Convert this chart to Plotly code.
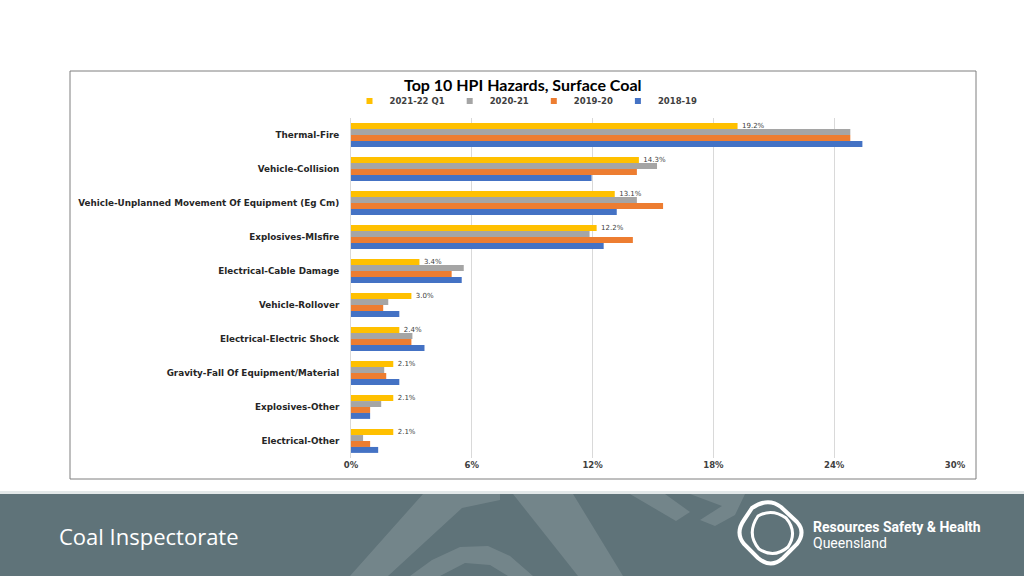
import plotly.graph_objects as go

W, H = 1024, 576

categories = [
    "Thermal-Fire",
    "Vehicle-Collision",
    "Vehicle-Unplanned Movement Of Equipment (Eg Cm)",
    "Explosives-MIsfire",
    "Electrical-Cable Damage",
    "Vehicle-Rollover",
    "Electrical-Electric Shock",
    "Gravity-Fall Of Equipment/Material",
    "Explosives-Other",
    "Electrical-Other",
]
series_names = ["2021-22 Q1", "2020-21", "2019-20", "2018-19"]
v_2021_22_q1 = [19.2, 14.3, 13.1, 12.2, 3.4, 3.0, 2.4, 2.1, 2.1, 2.1]
v_2020_21 = [24.8, 15.2, 14.2, 11.85, 5.6, 1.85, 3.05, 1.65, 1.5, 0.6]
v_2019_20 = [24.8, 14.2, 15.5, 14.0, 5.0, 1.6, 3.0, 1.75, 0.95, 0.95]
v_2018_19 = [25.4, 11.95, 13.2, 12.55, 5.5, 2.4, 3.65, 2.4, 0.95, 1.35]
series_values = [v_2021_22_q1, v_2020_21, v_2019_20, v_2018_19]
colors = ["#FFC000", "#A5A5A5", "#ED7D31", "#4472C4"]
x_ticks = [0, 6, 12, 18, 24, 30]
x_ticklabels = ["0%", "6%", "12%", "18%", "24%", "30%"]


def px(x):
    return x / W


def py(y):
    return 1 - y / H


fig = go.Figure()
for i, (name, vals, col) in enumerate(zip(series_names, series_values, colors)):
    kw = {}
    if i == 0:
        kw = dict(
            text=[f"  {v:.1f}%" for v in vals],
            textposition="outside",
            textfont=dict(family="DejaVu Sans", size=7, color="#404040"),
            constraintext="none",
            cliponaxis=False,
        )
    fig.add_trace(
        go.Bar(
            y=categories,
            x=vals,
            name=name,
            orientation="h",
            marker=dict(color=col, line=dict(width=0)),
            showlegend=False,
            legendgroup=name,
            hoverinfo="x+y",
            **kw,
        )
    )
# compact legend entries (small square swatches) linked to the bar traces
for name, col in zip(series_names, colors):
    fig.add_trace(
        go.Scatter(
            x=[None], y=[None], mode="markers", name=name, legendgroup=name,
            marker=dict(symbol="square", size=6, color=col),
            showlegend=True,
        )
    )

shapes = []
# footer band
shapes.append(dict(type="rect", xref="paper", yref="paper", x0=0, x1=1,
                   y0=py(576), y1=py(494), fillcolor="#5f7379", line=dict(width=0), layer="below"))
shapes.append(dict(type="rect", xref="paper", yref="paper", x0=0, x1=1,
                   y0=py(494), y1=py(491), fillcolor="#e3e8e9", line=dict(width=0), layer="below"))


def path_of(points):
    return "M " + " L ".join(f"{px(a):.5f},{py(b):.5f}" for a, b in points) + " Z"


def poly(points, fill):
    return dict(type="path", xref="paper", yref="paper", path=path_of(points), fillcolor=fill,
                line=dict(width=0, color="rgba(0,0,0,0)"), layer="below")


wm = "rgba(255,255,255,0.13)"
# faint watermark of the logo inside the footer
shapes.append(poly([(423, 494), (500, 494), (500, 500), (462, 508), (388, 576), (350, 576)], wm))
shapes.append(poly([(513, 494), (573, 494), (623, 576), (578, 576)], wm))
shapes.append(poly([(410, 576), (432, 560), (460, 547), (488, 546), (510, 556), (533, 576),
                    (508, 576), (490, 565), (465, 563), (440, 576)], wm))
shapes.append(poly([(630, 494), (665, 494), (690, 512), (676, 521)], wm))
shapes.append(poly([(690, 494), (745, 494), (735, 515), (715, 526), (700, 520), (722, 506)], wm))

# logo (rounded diamond with inner swirl)
outer = (f"M {px(752):.5f},{py(508):.5f} Q {px(768):.5f},{py(497):.5f} {px(781):.5f},{py(507):.5f} "
         f"L {px(797):.5f},{py(522):.5f} Q {px(806):.5f},{py(532):.5f} {px(797):.5f},{py(544):.5f} "
         f"L {px(783):.5f},{py(558):.5f} Q {px(771):.5f},{py(569):.5f} {px(758):.5f},{py(558):.5f} "
         f"L {px(744):.5f},{py(544):.5f} Q {px(735):.5f},{py(533):.5f} {px(744):.5f},{py(520):.5f} Z")
inner = (f"M {px(758):.5f},{py(516):.5f} Q {px(772):.5f},{py(508):.5f} {px(786):.5f},{py(518):.5f} "
         f"Q {px(798):.5f},{py(532):.5f} {px(788):.5f},{py(547):.5f} "
         f"Q {px(774):.5f},{py(559):.5f} {px(759):.5f},{py(549):.5f} "
         f"Q {px(746):.5f},{py(534):.5f} {px(758):.5f},{py(516):.5f} Z")
shapes.append(dict(type="path", xref="paper", yref="paper", path=outer,
                   fillcolor="rgba(0,0,0,0)", line=dict(width=4, color="white"), layer="above"))
shapes.append(dict(type="path", xref="paper", yref="paper", path=inner,
                   fillcolor="rgba(0,0,0,0)", line=dict(width=3, color="white"), layer="above"))

# chart box
shapes.append(dict(type="rect", xref="paper", yref="paper", x0=px(70), x1=px(976),
                   y0=py(479), y1=py(71), line=dict(width=1, color="#7f7f7f"),
                   fillcolor="rgba(0,0,0,0)", layer="below"))

annotations = [
    dict(text="<b>Top 10 HPI Hazards, Surface Coal</b>", x=px(523), y=py(84),
         xref="paper", yref="paper", showarrow=False, xanchor="center", yanchor="middle",
         font=dict(family="Lato", size=16, color="#000000")),
    dict(text="Coal Inspectorate", x=px(57), y=py(536), xref="paper", yref="paper",
         showarrow=False, xanchor="left", yanchor="middle",
         font=dict(family="Open Sans", size=22, color="white")),
    dict(text="<b>Resources Safety &amp; Health</b>", x=px(811), y=py(527), xref="paper",
         yref="paper", showarrow=False, xanchor="left", yanchor="middle",
         font=dict(family="Liberation Sans Narrow, Roboto", size=14, color="white")),
    dict(text="Queensland", x=px(811), y=py(543), xref="paper", yref="paper",
         showarrow=False, xanchor="left", yanchor="middle",
         font=dict(family="Liberation Sans Narrow, Roboto", size=14, color="white")),
]

fig.update_layout(
    width=W,
    height=H,
    autosize=False,
    margin=dict(l=0, r=0, t=0, b=0, autoexpand=False),
    paper_bgcolor="white",
    plot_bgcolor="white",
    barmode="group",
    bargap=0.3,
    bargroupgap=0,
    shapes=shapes,
    annotations=annotations,
    legend=dict(
        orientation="h",
        x=px(526),
        xanchor="center",
        y=py(101),
        yanchor="middle",
        font=dict(family="DejaVu Sans", size=8.5, color="#404040", weight="bold"),
        itemwidth=30,
        tracegroupgap=0,
        bgcolor="rgba(0,0,0,0)",
    ),
    xaxis=dict(
        domain=[px(351), px(955)],
        range=[0, 30],
        tickvals=x_ticks,
        ticktext=x_ticklabels,
        showgrid=True,
        gridcolor="#d9d9d9",
        gridwidth=1,
        zeroline=False,
        showline=False,
        automargin=False,
        tickfont=dict(family="DejaVu Sans", size=8.5, color="#404040", weight="bold"),
        ticks="",
        fixedrange=True,
    ),
    yaxis=dict(
        domain=[py(458), py(118)],
        autorange="reversed",
        showline=True,
        linecolor="#d9d9d9",
        linewidth=1,
        showgrid=False,
        automargin=False,
        ticks="",
        ticklabelstandoff=9,
        tickfont=dict(family="DejaVu Sans", size=8.8, color="#262626", weight="bold"),
        fixedrange=True,
    ),
)

fig.write_html(
    "out.html",
    config={"responsive": False, "displayModeBar": False},
    post_script="document.body.style.margin='0';document.body.style.overflow='hidden';",
)
